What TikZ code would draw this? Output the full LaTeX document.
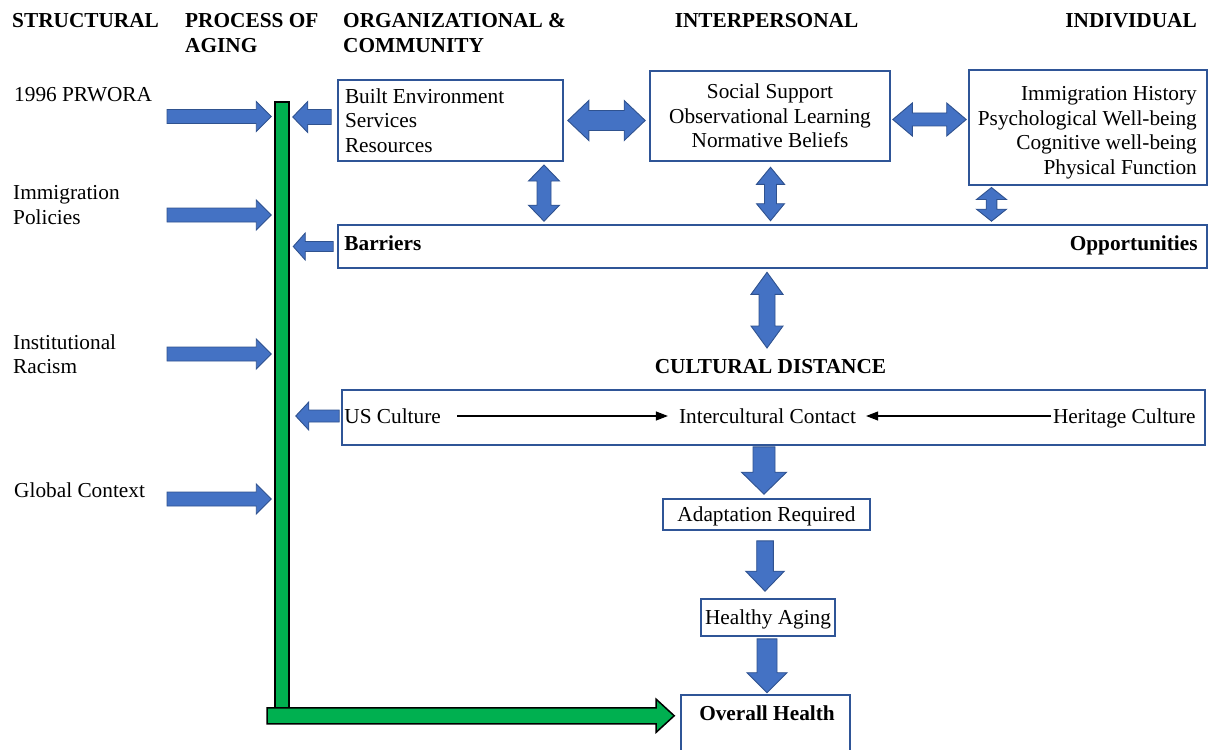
\documentclass[tikz,border=0pt]{standalone}
\usepackage{fontspec}
\setmainfont{Liberation Serif}
\usetikzlibrary{calc,arrows.meta}

\definecolor{arrowblue}{HTML}{4472C4}
\definecolor{arrowedge}{HTML}{2F528F}
\definecolor{boxblue}{HTML}{2F5597}
\definecolor{agegreen}{HTML}{00B050}

\newcommand{\figfont}{\fontsize{21.3}{24.5}\selectfont}

% block arrow: [style]{from}{to}{half shaft}{half head}{head length}
\newcommand{\fatarrow}[6][blockarrow]{%
  \coordinate (fa-s) at (#2);
  \coordinate (fa-e) at (#3);
  \coordinate (fa-h) at ($(fa-e)!#6!(fa-s)$);
  \draw[#1] ($(fa-s)!#4!90:(fa-e)$) -- ($(fa-h)!#4!-90:(fa-s)$)
    -- ($(fa-h)!#5!-90:(fa-s)$) -- (fa-e) -- ($(fa-h)!#5!90:(fa-s)$)
    -- ($(fa-h)!#4!90:(fa-s)$) -- ($(fa-s)!#4!-90:(fa-e)$) -- cycle;
}
% same with a head at both ends
\newcommand{\fatdarrow}[6][blockarrow]{%
  \coordinate (fa-s) at (#2);
  \coordinate (fa-e) at (#3);
  \coordinate (fa-a) at ($(fa-s)!#6!(fa-e)$);
  \coordinate (fa-b) at ($(fa-e)!#6!(fa-s)$);
  \draw[#1] (fa-s) -- ($(fa-a)!#5!90:(fa-e)$) -- ($(fa-a)!#4!90:(fa-e)$)
    -- ($(fa-b)!#4!-90:(fa-s)$) -- ($(fa-b)!#5!-90:(fa-s)$) -- (fa-e)
    -- ($(fa-b)!#5!90:(fa-s)$) -- ($(fa-b)!#4!90:(fa-s)$)
    -- ($(fa-a)!#4!-90:(fa-e)$) -- ($(fa-a)!#5!-90:(fa-e)$) -- cycle;
}

\begin{document}
\begin{tikzpicture}[x=1pt,y=-1pt,
  every node/.style={font=\figfont, inner sep=0pt},
  colhead/.style={font=\figfont\bfseries, align=flush left},
  sidelabel/.style={align=flush left},
  boxframe/.style={draw=boxblue, line width=1.6pt},
  inlabel/.style={text height=14pt, text depth=0pt},
  agebar/.style={draw=black, fill=agegreen, line width=1.5pt},
  blockarrow/.style={fill=arrowblue, draw=arrowedge, line width=0.9pt},
  greenarrow/.style={fill=agegreen, draw=black, line width=1.5pt},
  flowline/.style={-{Triangle[length=12pt,width=9pt]}, line width=1.1pt}
]
\useasboundingbox (0,0) rectangle (1209,749);

\node[colhead, anchor=north west] (hstruct) at (12,13.5) {STRUCTURAL};
\node[colhead, anchor=north west] (hage) at (185,13.5) {PROCESS OF\\AGING};
\node[colhead, anchor=north west] (horg) at (343,13.5) {ORGANIZATIONAL \&\\COMMUNITY};
\node[colhead, anchor=north] (hinter) at (766.5,13.5) {INTERPERSONAL};
\node[colhead, anchor=north east] (hindiv) at (1197,13.5) {INDIVIDUAL};

\node[sidelabel, anchor=north west] (prwora) at (14,87.5) {1996 PRWORA};
\node[sidelabel, anchor=north west] (policy) at (13,185.5) {Immigration\\Policies};
\node[sidelabel, anchor=north west] (racism) at (13,334.5) {Institutional\\Racism};
\node[sidelabel, anchor=north west] (global) at (14,482.5) {Global Context};

\node[agebar, minimum width=14pt, minimum height=613pt] (aging) at (282,408.5) {};

\node[boxframe, minimum width=225pt, minimum height=81pt, text width=211pt, align=flush left] (org) at (450.5,120.5) {Built Environment\\Services\\Resources};
\node[boxframe, minimum width=240pt, minimum height=90pt, align=center] (inter) at (770,116) {Social Support\\Observational Learning\\Normative Beliefs};
\node[boxframe, minimum width=238pt, minimum height=115pt] (indiv) at (1088,127.5) {};
\node[align=flush right, anchor=north east] (indivtxt) at (1197,86.5) {Immigration History\\Psychological Well-being\\Cognitive well-being\\Physical Function};

\node[boxframe, minimum width=869pt, minimum height=43pt] (bar) at (772.5,246.5) {};
\node[inlabel, font=\figfont\bfseries, anchor=west] (barriers) at ($(bar.west)+(7,-3.5)$) {Barriers};
\node[inlabel, font=\figfont\bfseries, anchor=east] (opps) at ($(bar.east)+(-10,-3.5)$) {Opportunities};

\node[colhead, anchor=north] (cdist) at (770.5,359) {CULTURAL DISTANCE};

\node[boxframe, minimum width=863pt, minimum height=55pt] (culture) at (773.5,417.5) {};
\node[inlabel, anchor=west] (us) at ($(culture.west)+(3,-1.5)$) {US Culture};
\node[inlabel] (contact) at (767.5,416) {Intercultural Contact};
\node[inlabel, anchor=east] (heritage) at ($(culture.east)+(-10,-1.5)$) {Heritage Culture};
\draw[flowline, shorten <=16pt, shorten >=11pt] (us.east) -- (contact.west);
\draw[flowline, shorten <=2pt, shorten >=10pt] (heritage.west) -- (contact.east);

\node[boxframe, inlabel, minimum width=207pt, minimum height=31pt] (adapt) at (766.5,514.5) {Adaptation Required};
\node[boxframe, inlabel, minimum width=134pt, minimum height=37pt] (healthy) at (768,617.5) {Healthy Aging};
\node[boxframe, minimum width=169pt, minimum height=60pt] (overall) at (765.5,725) {};
\node[inlabel, font=\figfont\bfseries] (overalltxt) at (767,713) {Overall Health};

\coordinate (r1) at (167,116.5);
\coordinate (r2) at (167,215);
\coordinate (r3) at (167,354);
\coordinate (r4) at (167,499);
\fatarrow{r1}{$(r1 -| aging.west)+(-3,0)$}{7pt}{15pt}{15pt}
\fatarrow{r2}{$(r2 -| aging.west)+(-3,0)$}{7pt}{15pt}{15pt}
\fatarrow{r3}{$(r3 -| aging.west)+(-3,0)$}{7pt}{15pt}{15pt}
\fatarrow{r4}{$(r4 -| aging.west)+(-3,0)$}{7pt}{15pt}{15pt}

\coordinate (o1) at ($(org.west)+(-6,-3.5)$);
\coordinate (o2) at ($(bar.west)+(-4,0)$);
\coordinate (o3) at ($(culture.west)+(-2,-1.5)$);
\fatarrow{o1}{$(o1 -| aging.east)+(3,0)$}{7.5pt}{15.5pt}{15pt}
\fatarrow{o2}{$(o2 -| aging.east)+(3.5,0)$}{5pt}{13.5pt}{12pt}
\fatarrow{o3}{$(o3 -| aging.east)+(6,0)$}{6pt}{14pt}{13pt}

\fatdarrow{$(org.east)+(4,0)$}{$(org.east -| inter.west)+(-4,0)$}{10pt}{20pt}{21pt}
\fatdarrow{$(inter.east)+(2,3.5)$}{$(inter.east -| indiv.west)+(-2,3.5)$}{6.5pt}{16.5pt}{19.5pt}

\coordinate (v1) at (544,165);
\coordinate (v2) at ($(inter.south)+(0.5,5.5)$);
\coordinate (v3) at (991.5,187.5);
\fatdarrow{v1}{$(v1 |- bar.north)+(0,-3)$}{7pt}{15.5pt}{16pt}
\fatdarrow{v2}{$(v2 |- bar.north)+(0,-3.5)$}{6pt}{14pt}{17pt}
\fatdarrow{v3}{$(v3 |- bar.north)+(0,-3)$}{5.3pt}{15pt}{12pt}
\fatdarrow{$(bar.south)+(-5.5,3.5)$}{$(cdist.north)+(-3.5,-11)$}{8pt}{16pt}{22pt}

\fatarrow{$(culture.south -| adapt.north)+(-2.5,1)$}{$(adapt.north)+(-2.5,-4)$}{11pt}{22.5pt}{22pt}
\fatarrow{$(adapt.south)+(-1.5,10)$}{$(healthy.north)+(-3,-7)$}{8.3pt}{19.3pt}{20pt}
\fatarrow{$(healthy.south)+(-1,2)$}{$(overall.north)+(1.5,-1.5)$}{10pt}{20pt}{20pt}

\fatarrow[greenarrow]{$(aging.south)+(-15,0)$}{$(aging.south -| overall.west)+(-6,0)$}{8pt}{16.5pt}{18pt}
\end{tikzpicture}
\end{document}
